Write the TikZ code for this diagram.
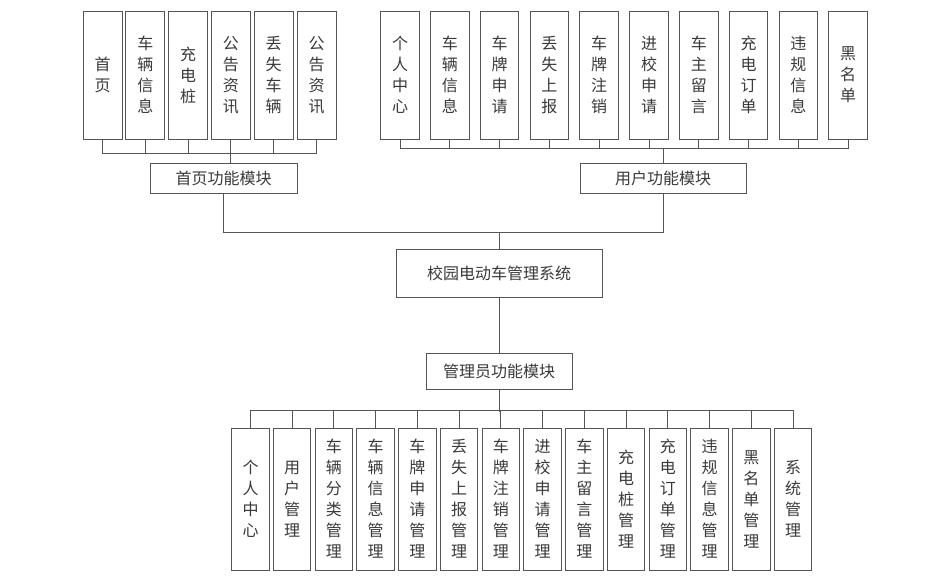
\documentclass[tikz,border=0pt]{standalone}
\usepackage{fontspec}
\setmainfont{Noto Sans CJK SC}
\usetikzlibrary{positioning}
\definecolor{linegray}{HTML}{555555}
\definecolor{textgray}{HTML}{3A3A3A}

\begin{document}
\begin{tikzpicture}[x=1pt, y=-1pt,
      every node/.style={font=\fontsize{16}{21}\selectfont, text=textgray},
      leaf/.style={draw=linegray, line width=1pt, fill=white, align=center, inner sep=0pt, minimum height=128pt},
      module/.style={draw=linegray, line width=1pt, fill=white, inner sep=0pt},
      link/.style={draw=linegray, line width=1pt}
    ]
    \useasboundingbox (0,0) rectangle (933,584);
    % Home page leaves
    \foreach \t [count=\i] in {首\\页, 车\\辆\\信\\息, 充\\电\\桩, 公\\告\\资\\讯, 丢\\失\\车\\辆, 公\\告\\资\\讯}
      \node[leaf, minimum width=39pt] (h\i) at ({102.5+42.8*(\i-1)}, 75) {\t};
    % User leaves
    \foreach \t [count=\i] in {个\\人\\中\\心, 车\\辆\\信\\息, 车\\牌\\申\\请, 丢\\失\\上\\报, 车\\牌\\注\\销, 进\\校\\申\\请, 车\\主\\留\\言, 充\\电\\订\\单, 违\\规\\信\\息, 黑\\名\\单}
      \node[leaf, minimum width=38.5pt] (u\i) at ({400+49.8*(\i-1)}, 75) {\t};
    % Modules
    \node[module, minimum width=147pt, minimum height=30pt] (home) at (223.5,178) {首页功能模块};
    \node[module, minimum width=166pt, minimum height=30pt] (user) at (663,178) {用户功能模块};
    \node[module, minimum width=206pt, minimum height=48pt] (sys) at (499,273) {校园电动车管理系统};
    \node[module, minimum width=146pt, minimum height=36pt] (admin) at (499,371) {管理员功能模块};
    % Admin leaves
    \foreach \t [count=\i] in {个\\人\\中\\心, 用\\户\\管\\理, 车\\辆\\分\\类\\管\\理, 车\\辆\\信\\息\\管\\理, 车\\牌\\申\\请\\管\\理, 丢\\失\\上\\报\\管\\理, 车\\牌\\注\\销\\管\\理, 进\\校\\申\\请\\管\\理, 车\\主\\留\\言\\管\\理, 充\\电\\桩\\管\\理, 充\\电\\订\\单\\管\\理, 违\\规\\信\\息\\管\\理, 黑\\名\\单\\管\\理, 系\\统\\管\\理}
      \node[leaf, minimum width=37.5pt, minimum height=142pt] (a\i) at ({250.5+41.73*(\i-1)}, 499) {\t};
    \coordinate (ubar) at (0,148);
    \coordinate (mbar) at (0,232);
    % Home page tree
    \draw[link] (h1.south) -- ++(0,14) -| (h6.south);
    \foreach \i in {2,3,5}
      \draw[link] (h\i.south) -- ++(0,14);
    \draw[link] (h4.south) -- (h4.south |- home.north);
    % User tree
    \draw[link] (u1.south) -- ++(0,9) -| (u10.south);
    \foreach \i in {2,...,9}
      \draw[link] (u\i.south) -- ++(0,9);
    \draw[link] (user.north) -- (user.north |- ubar);
    % System
    \draw[link] (home.south) -- (home.south |- mbar) -| (user.south);
    \draw[link] (sys.north) -- (sys.north |- mbar);
    \draw[link] (sys.south) -- (admin.north);
    % Admin tree
    \draw[link] (a1.north) -- ++(0,-17) -| (a14.north);
    \foreach \i in {2,...,13}
      \draw[link] (a\i.north) -- ++(0,-17);
    \draw[link] (admin.south) -- ++(0,22);
  \end{tikzpicture}
\end{document}
